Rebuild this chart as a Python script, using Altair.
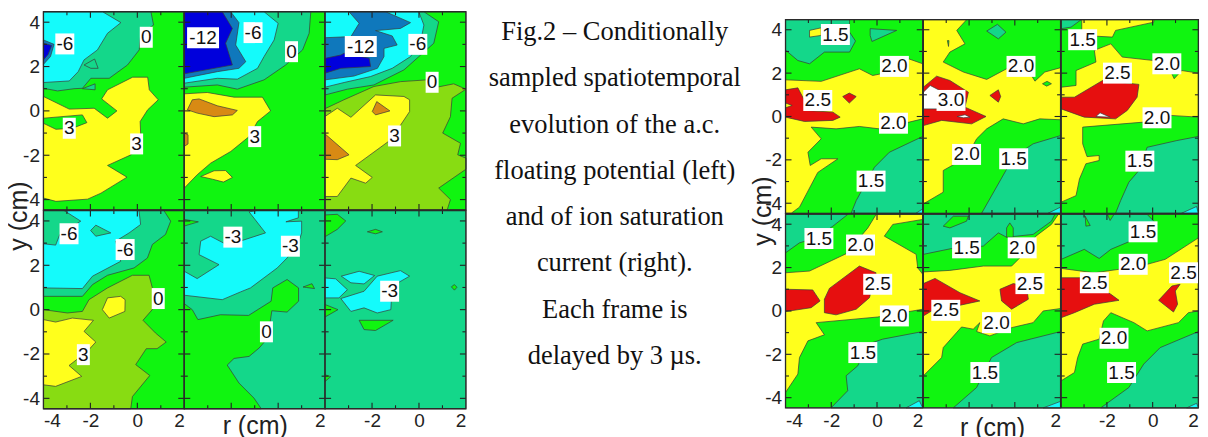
import altair as alt
import pandas as pd

COL = {"green": "#10f510", "teal": "#14d78a", "cyan": "#14fbfb", "blue": "#0000dc", "mid": "#0f78bc",
       "yellow": "#ffff1c", "olive": "#88dc12", "orange": "#d88a14", "red": "#e60f0f", "white": "#ffffff"}

A1 = [("teal", [(-4,1.02),(-3.4,.9),(-2.7,1.0),(-2.34,1.02),(-1.98,1.47),(-1.2,1.47),(-.42,2.07),(.08,2.75),(.15,3.5),(.69,3.87),(.58,4.47),(-4,4.47)]),
      ("cyan", [(-4,1.28),(-2.9,1.35),(-2.52,1.77),(-2.27,2.3),(-1.7,2.75),(-1.27,3.5),(-.7,3.98),(-1.48,4.47),(-4,4.47)]),
      ("teal", [(-2.27,2.07),(-1.82,2.34),(-1.67,1.92),(-1.98,1.92)]),
      ("teal", [(-2.34,1.0),(-1.8,1.22),(-1.8,.95)]),
      ("mid", [(-4,3.2),(-3.55,3.0),(-3.7,2.45),(-4,2.1)]),
      ("blue", [(-4,3.05),(-3.65,2.95),(-3.8,2.55),(-4,2.3)]),
      ("yellow", [(-4,.65),(-2.9,.08),(-1.84,.12),(-1.27,-.33),(-.87,0),(-1.52,.54),(-1.27,.95),(-.2,1.52),(.44,1.52),(.51,.95),(.89,.5),(.44,.05),(.12,-.48),(.15,-1.23),(-.27,-1.98),(-1.27,-2.46),(-.44,-2.99),(-1.55,-3.71),(-2.12,-3.98),(-3.47,-4.08),(-4,-3.93)]),
      ("green", [(-4,-.33),(-2.34,-.18),(-2.15,-.53),(-2.76,-.78),(-3.47,-.83),(-4,-.56)])]
A1_LABELS = [(-3.09,3.02,"-6"),(.38,3.32,"0"),(-2.9,-.78,"3"),(-.03,-1.49,"3")]

A2 = [("teal", [(-4,1.07),(-2.59,1.17),(-1.74,.98),(-.6,1.4),(.32,2.07),(1.04,2.75),(1.32,3.5),(1.39,4.47),(-4,4.47)]),
      ("cyan", [(-4,1.25),(-2.59,1.47),(-1.74,1.43),(-.88,1.92),(-.6,2.45),(-.17,3.2),(0,3.95),(-.6,4.47),(-4,4.47)]),
      ("mid", [(-4,1.47),(-2.59,1.77),(-1.67,1.92),(-1.38,2.22),(-1.81,2.97),(-1.67,3.98),(-2.02,4.47),(-4,4.47)]),
      ("blue", [(-4,1.67),(-2.31,2.0),(-1.95,2.07),(-2.24,3.05),(-1.95,3.72),(-2.38,4.47),(-4,4.47)]),
      ("yellow", [(-4,.77),(-3.02,.83),(-1.88,.62),(-.67,.62),(-.32,0),(-.88,-.48),(-1.24,-1.16),(-2.02,-1.83),(-2.88,-2.36),(-3.45,-2.88),(-4,-3.48)]),
      ("orange", [(-3.66,.5),(-3.37,.54),(-2.59,.23),(-1.74,.02),(-1.95,-.18),(-2.73,-.26),(-3.45,-.1),(-3.87,.05)]),
      ("orange", [(-4,-1.0),(-3.84,-1.08),(-3.84,-1.49),(-4,-1.6)]),
      ("yellow", [(-3.3,-2.96),(-2.73,-2.7),(-2.24,-2.69),(-1.95,-3.0),(-2.33,-3.21),(-2.8,-3.08)])]
A2_LABELS = [(-3.2,3.3,"-12"),(-1.07,3.53,"-6"),(.57,2.67,"0"),(-1.0,-1.16,"3")]

A3 = [("olive", [(-4,.1),(-3.2,.5),(-1.92,1.1),(-.78,1.32),(.35,1.4),(.77,1.07),(1.48,1.22),(2,.98),(1.41,.57),(1.34,-.26),(1.01,-1.0),(1.77,-1.46),(1.65,-1.98),(2,-2.13),(2,-2.63),(.84,-3.48),(1.34,-4.0),(1.2,-4.47),(-4,-4.47)]),
      ("teal", [(-4,.72),(-3.05,.98),(-1.92,1.17),(-.64,1.85),(.07,2.52),(.63,3.05),(.84,4.02),(.21,4.47),(-4,4.47)]),
      ("cyan", [(-4,1.07),(-3.19,1.28),(-2.06,1.55),(-1.14,1.92),(-.36,2.45),(.07,3.12),(.21,3.87),(-.01,4.47),(-4,4.47)]),
      ("mid", [(-4,1.4),(-2.77,1.57),(-1.77,1.92),(-1.49,2.45),(-1.49,2.82),(-.93,2.97),(-1.14,3.38),(-1.85,3.62),(-.79,3.72),(-.36,3.98),(-1.42,4.47),(-2.98,4.47),(-2.55,3.95),(-2.9,3.35),(-4,3.3)]),
      ("blue", [(-4,2.37),(-3.33,2.52),(-3.19,2.6),(-2.12,2.37),(-2.06,2.0),(-3.33,1.92),(-4,1.7)]),
      ("yellow", [(-4,-.25),(-3.48,.12),(-2.9,-.29),(-1.85,.72),(-.64,.65),(-.4,.5),(-.4,-.03),(-1.2,-1.3),(-2.7,-2.46),(-1.99,-3.0),(-2.27,-3.26),(-2.9,-3.03),(-3.48,-3.86),(-4,-3.86)]),
      ("orange", [(-1.8,.42),(-1.24,0),(-1.85,-.18),(-1.99,-.03)]),
      ("orange", [(-4,-1.04),(-2.98,-1.98),(-3.48,-2.2),(-4,-2.18)])]
A3_LABELS = [(-2.48,2.9,"-12"),(-.05,3.0,"-6"),(.56,1.29,"0"),(-1.04,-1.13,"3")]

B1 = [("teal", [(-4,.6),(-2.34,.6),(-1.91,1.13),(-1.27,1.55),(-.14,1.88),(.43,2.33),(.64,2.94),(1.2,3.39),(1.42,3.99),(1.13,4.52),(-4,4.52)]),
      ("cyan", [(-4,2.97),(-3.48,2.91),(-3.3,3.4),(-2.41,3.99),(-3.12,4.52),(.07,4.52),(.14,3.84),(-.35,3.46),(-.92,3.09),(-.71,2.18),(-1.91,1.51),(-2.34,.95),(-4,.98)]),
      ("teal", [(-1.99,3.57),(-1.77,3.81),(-1.13,3.46),(-1.77,3.31)]),
      ("olive", [(-4,0),(-2.98,-.15),(-2.34,-.08),(-2.06,.45),(-1.27,.98),(-.21,1.55),(.5,1.55),(.64,.98),(.7,.08),(.24,-.48),(.77,-1.05),(1.23,-1.46),(.84,-1.76),(.38,-1.76),(-.07,-2.48),(.53,-2.97),(-.21,-3.92),(-.28,-4.48),(-4,-4.48)]),
      ("yellow", [(-4,-.45),(-3.48,-.56),(-2.77,-.38),(-1.87,-.48),(-2.27,-.98),(-1.77,-1.46),(-2.13,-1.88),(-2.91,-2.52),(-2.37,-3.01),(-3.48,-3.46),(-4,-3.39)]),
      ("yellow", [(-1.27,.53),(-.71,.6),(-.52,.45),(-.53,-.08),(-1.2,-.38),(-1.49,0)])]
B1_LABELS = [(-2.91,3.42,"-6"),(-.52,2.71,"-6"),(.89,.5,"0"),(-2.3,-2.03,"3")]

B2 = [("green", [(-4,.27),(-3.66,0),(-3.42,-.45),(-2.46,-.23),(-1.26,-.26),(-.3,.38),(-.23,.98),(.38,1.36),(.87,.98),(.87,.38),(.38,-.11),(-.27,-.05),(-.44,-1.28),(-.81,-1.73),(-1.24,-2.11),(-1.88,-2.2),(-2.17,-2.5),(-1.67,-3.31),(-1.03,-3.99),(-.72,-4.48),(-4,-4.48)]),
      ("green", [(-4,4.07),(-3.4,3.96),(-4,3.77)]),
      ("green", [(1.06,1.02),(1.44,1.17),(1.55,.95),(1.2,1.0)]),
      ("cyan", [(-4,1.73),(-3.45,1.4),(-2.52,2.03),(-3.37,2.48),(-3.3,3.09),(-2.88,3.31),(-2.32,3.0),(-1.53,3.12),(-.54,3.46),(-1.24,4.41),(-.9,4.52),(.86,4.52),(.86,4.14),(.33,3.96),(1.0,3.99),(1.0,3.46),(.86,3.0),(.38,2.33),(-.04,1.88),(-1.18,.98),(-1.6,.8),(-2.38,.45),(-4,.65)])]
B2_LABELS = [(-1.93,3.27,"-3"),(.52,2.86,"-3"),(-.5,-1.0,"0")]

B3 = [("green", [(-4,4.27),(-3.48,4.3),(-3.12,4.0),(-3.48,3.62),(-4,3.29)]),
      ("green", [(-2.2,3.51),(-1.85,3.62),(-1.56,3.51),(-1.85,3.42)]),
      ("cyan", [(-4,1.43),(-3.55,1.39),(-3.05,.9),(-3.41,.53),(-4,.53)]),
      ("cyan", [(-3.31,1.51),(-2.55,1.73),(-1.89,1.54),(-2.34,1.16),(-2.9,1.21)]),
      ("cyan", [(-3.33,.5),(-2.34,.83),(-1.78,1.51),(-.79,1.76),(-.4,1.51),(-1.14,1.06),(-1.2,0),(-1.78,-.15),(-2.34,.08),(-2.9,-.08)]),
      ("green", [(-4,.23),(-3.45,0),(-4,-.33)]),
      ("green", [(-2.55,-.48),(-1.1,-.48),(-1.85,-.94),(-2.34,-.9)]),
      ("green", [(1.38,1.03),(1.51,1.13),(1.62,1.01),(1.51,.88)]),
      ("green", [(-4,-2.94),(-3.76,-3.02),(-4,-3.24)])]
B3_LABELS = [(-1.25,.83,"-3")]

C1 = [("teal", [(-4,3.06),(-3.46,2.58),(-2.95,2.43),(-2.3,2.97),(-1.2,2.97),(-.94,3.48),(-1.2,3.89),(-1.2,4.46),(-4,4.46)]),
      ("yellow", [(-2.95,3.97),(-2.44,4.09),(-2.44,3.74),(-2.95,3.66)]),
      ("teal", [(-.3,4.05),(.86,3.97),(-.22,3.46),(-.3,3.74)]),
      ("yellow", [(-4,1.69),(-2.44,1.62),(-.77,2.2),(-.19,1.89),(.18,1.97),(1.41,2.65),(2,2.43),(2,-.11),(1.41,-.26),(.1,-.57),(-.77,-.46),(-1.79,-.57),(-2.88,-.49),(-2.44,-1.03),(-3.02,-1.65),(-2.92,-2.26),(-2.44,-1.95),(-1.71,-1.95),(-2.59,-2.58),(-3.39,-4.18),(-3.75,-4.46),(-4,-4.46)]),
      ("teal", [(-1.13,-4.46),(-.91,-3.88),(-.11,-2.34),(.54,-1.65),(2,-.92),(2,-4.46)]),
      ("cyan", [(1.71,-4.46),(2,-4.26),(2,-4.46)]),
      ("red", [(-4,1.23),(-3.46,1.32),(-3.17,.74),(-3.1,.28),(-1.93,.2),(-1.61,-.03),(-1.93,-.18),(-3.17,-.23),(-4,-.03)]),
      ("yellow", [(-4,.62),(-3.71,.51),(-4,.4)]),
      ("red", [(-1.5,.92),(-1.21,1.08),(-.91,.92),(-1.21,.62)])]
C1_LABELS = [(-1.82,3.78,"1.5"),(.76,2.31,"2.0"),(-2.59,.74,"2.5"),(.72,-.31,"2.0"),(-.26,-2.98,"1.5")]

C2 = [("yellow", [(-4,4.46),(-2.11,4.46),(-2.54,3.97),(-2.18,3.35),(-2.84,2.97),(-3.13,2.51),(-2.25,2.05),(-1.23,1.71),(-.36,2.2),(.37,2.5),(.88,1.63),(1.31,2.05),(2,2.25),(2,-.15),(1.09,-.11),(.37,-.34),(-.51,-.11),(-1.23,-.57),(-1.67,-1.03),(-2.11,-1.88),(-3.13,-2.49),(-3.13,-3.49),(-4,-4.03)]),
      ("teal", [(-1.23,3.94),(-.76,4.25),(-.39,3.89),(-.72,3.58)]),
      ("green", [(-2.95,3.5),(-2.88,3.5),(-2.9,3.23)]),
      ("green", [(1.21,1.51),(1.41,1.62),(1.6,1.51),(1.39,1.4)]),
      ("teal", [(-1.45,-4.46),(-.39,-2.49),(-.07,-1.88),(.8,-1.26),(2,-.88),(2,-4.46)]),
      ("cyan", [(1.46,-4.46),(2,-4.18),(2,-4.46)]),
      ("red", [(-4,1.35),(-3.42,1.86),(-2.84,1.66),(-2.03,1.12),(-2.18,.43),(-1.26,0),(-1.89,-.34),(-3.2,-.18),(-4,-.42)]),
      ("white", [(-4,1.12),(-3.7,1.43),(-3.13,1.12),(-3.13,.35),(-4,.35)]),
      ("white", [(-2.52,0),(-2.18,.08),(-1.96,-.03),(-2.25,-.06)]),
      ("red", [(-1.09,.97),(-.72,1.23),(-.62,.92),(-.72,.66)])]
C2_LABELS = [(-2.79,.74,"3.0"),(.27,2.31,"2.0"),(-2.11,-1.75,"2.0"),(-.05,-1.95,"1.5")]

C3 = [("teal", [(-4,4.46),(-3.13,4.46),(-3.57,4.12),(-4,4.05)]),
      ("yellow", [(-3.1,3.74),(-1.76,3.66),(-1.62,3.97),(.05,4.35),(.05,4.46),(-3.1,4.46)]),
      ("yellow", [(-4,1.35),(-3.35,1.43),(-3.35,2.12),(-2.48,2.51),(-2.55,3.05),(-1.83,3.35),(-1.33,2.74),(.05,2.58),(.84,1.97),(.94,1.74),(1.27,2.12),(2,2.0),(2,-.03),(.77,.05),(-.39,-.26),(-3.06,-.49),(-3.06,-1.26),(-2.87,-1.85),(-2.34,-1.8),(-2.34,-2.03),(-2.92,-2.18),(-3.2,-2.88),(-3.35,-3.65),(-4,-3.95)]),
      ("teal", [(-1.62,-4.46),(-1.4,-3.88),(-1.04,-3.03),(-.6,-2.49),(-.24,-1.42),(1.06,-1.11),(2,-.92),(2,-4.46)]),
      ("cyan", [(1.27,-4.46),(1.92,-4.15),(2,-4.46)]),
      ("red", [(-4,.89),(-3.42,.89),(-2.19,1.66),(-.6,1.48),(-.68,.89),(-1.11,.28),(-1.62,-.11),(-2.99,-.03),(-4,.35)]),
      ("white", [(-2.48,0),(-2.3,.17),(-1.86,-.03)])]
C3_LABELS = [(-3.06,3.54,"1.5"),(-1.54,2.0,"2.5"),(.62,2.43,"2.0"),(.19,-.06,"2.0"),(-.56,-2.06,"1.5")]

D1 = [("teal", [(-4,4.45),(-1.28,4.45),(-1.93,3.91),(-2.66,3.37),(-3.39,3.14),(-4,2.68)]),
      ("yellow", [(-4,1.76),(-2.95,1.84),(-1.35,2.64),(-.4,3.83),(-.04,4.45),(2,4.45),(2,4.22),(.69,3.99),(.32,3.45),(1.71,2.61),(1.78,1.99),(2,1.69),(2,.08),(.03,-.28),(-2.66,-.54),(-2.3,-1.1),(-3.02,-1.38),(-3.39,-2.15),(-3.46,-2.91),(-4,-3.76)]),
      ("teal", [(-2.01,-4.48),(-1.28,-3.68),(-1.35,-2.99),(-.84,-2.53),(-.4,-1.53),(.25,-1.3),(2,-.95),(2,-4.48)]),
      ("cyan", [(1.27,-4.48),(1.85,-4.14),(2,-4.48)]),
      ("red", [(-4,1.0),(-2.81,.97),(-2.49,.46),(-2.88,.15),(-4,-.03)]),
      ("red", [(-2.08,1.04),(-.77,2.07),(-.04,1.76),(-.33,.61),(-.91,.08),(-1.79,-.18),(-2.3,-.08),(-2.3,.54)])]
D1_LABELS = [(-2.54,3.34,"1.5"),(-.72,3.04,"2.0"),(.03,1.23,"2.5"),(.76,-.23,"2.0"),(-.62,-1.92,"1.5")]

D2 = [("teal", [(-4,2.61),(-2.76,2.88),(-1.38,2.99),(-.72,3.6),(-.36,3.4),(.8,3.53),(1.6,4.14),(1.75,4.45),(-4,4.45)]),
      ("green", [(-3.13,3.91),(-2.69,4.37),(-2.03,4.37),(-2.11,4.14),(-2.84,3.83)]),
      ("green", [(-.36,3.4),(-.36,3.83),(-.22,4.06),(-.07,3.83),(-.07,3.4)]),
      ("yellow", [(-4,1.8),(-2.84,1.87),(-1.38,2.07),(-.14,2.07),(.22,2.45),(.92,3.45),(1.6,3.99),(1.9,4.45),(2,4.45),(2,.11),(1.24,0),(.8,-.54),(-.14,-.77),(-1.09,-1.15),(-1.67,-.95),(-1.53,-.54),(-1.82,-.84),(-2.33,-.74),(-3.13,-1.69),(-3.2,-2.15),(-4,-2.99)]),
      ("teal", [(-2.69,-4.48),(-1.67,-3.53),(-1.02,-2.15),(.08,-1.46),(2,-.95),(2,-4.48)]),
      ("cyan", [(1.24,-4.48),(2,-4.17),(2,-4.48)]),
      ("red", [(-4,1.26),(-3.49,1.5),(-2.4,.84),(-1.53,.46),(-2.54,.23),(-3.64,0),(-4,-.23)]),
      ("red", [(-.65,1.0),(-.07,1.26),(.51,1.15),(.59,.54),(-.14,.08),(-.58,.46)])]
D2_LABELS = [(-2.11,2.91,"1.5"),(.32,2.91,"2.0"),(.66,1.26,"2.5"),(-3.02,.03,"2.5"),(-.8,-.54,"2.0"),(-1.31,-2.84,"1.5")]

D3 = [("teal", [(-4,2.38),(-2.99,2.84),(-2.34,2.42),(-1.83,2.84),(-.97,3.22),(-.1,3.22),(.19,3.99),(-.24,4.45),(-4,4.45)]),
      ("green", [(-1.98,4.45),(-1.86,4.17),(-1.69,4.45)]),
      ("green", [(-2.95,4.37),(-2.73,3.94),(-2.92,3.91)]),
      ("yellow", [(-4,1.96),(-2.55,1.76),(-1.47,1.92),(-.24,2.15),(.55,2.38),(2,3.37),(2,0),(1.56,-.08),(1.13,-.54),(-.24,-.92),(-.82,-.54),(-1.83,-.08),(-2.15,-.46),(-2.34,-1.3),(-3.06,-1.53),(-3.28,-2.15),(-3.42,-2.84),(-4,-3.22)]),
      ("teal", [(-2.27,-4.48),(-1.04,-3.53),(-.39,-2.45),(.33,-1.69),(2,-.95),(2,-4.48)]),
      ("cyan", [(1.49,-4.48),(1.92,-4.26),(2,-4.48)]),
      ("red", [(-4,1.53),(-3.13,1.53),(-1.83,.77),(-1.47,.49),(-2.55,.31),(-3.42,-.08),(-4,-.31)]),
      ("red", [(.26,.49),(.84,1.15),(1.2,1.23),(.99,.92),(1.09,.31),(.91,-.05)])]
D3_LABELS = [(-.42,3.65,"1.5"),(-.85,2.15,"2.0"),(-2.55,1.3,"2.5"),(1.35,1.76,"2.5"),(-1.69,-1.26,"2.0"),(-1.36,-2.84,"1.5")]

CAPTION = ["Fig.2 – Conditionally", "sampled spatiotemporal", "evolution of the a.c.", "floating potential (left)",
           "and of  ion saturation", "current (right).", "Each frame is", "delayed by 3 µs."]

XDOM = [-4, 2]
YDOM = [-4.47, 4.47]
X_MAJOR, X_MINOR = [-2, 0], [-3, -1, 1]
Y_MAJOR, Y_MINOR = [-4, -2, 0, 2, 4], [-3, -1, 1, 3]
FONT = "Liberation Sans"
BOX_W = {"0": 13, "3": 13, "-3": 19, "-6": 19, "-12": 32, "1.5": 29, "2.0": 29, "2.5": 29, "3.0": 29}


def panel(base, polys, labels, w, h, top=0.0, plot_h=None, left=False, bottom=False, xvals=(-2, 0, 2), xtitle=None,
          xtitle_y=17, ytitle=None, ytitle_y=0, ytitle_x=-25):
    plot_h = plot_h or h
    y_top, y_bot = top, top + plot_h
    corners = [(XDOM[0], YDOM[1]), (XDOM[1], YDOM[1]), (XDOM[1], YDOM[0]), (XDOM[0], YDOM[0])]
    rows = []
    for pid, (name, pts) in enumerate([(base, corners)] + polys):
        for i, (r, y) in enumerate(pts):
            rows.append({"pid": pid, "i": i, "r": r, "y": y, "c": COL[name]})
    df = pd.DataFrame(rows)
    xaxis = None
    if bottom:
        xaxis = alt.Axis(values=list(xvals), ticks=False, domain=False, grid=False, labelFont=FONT, labelFontSize=19,
                         labelColor="#222", labelPadding=3, labelExpr="''+datum.value", title=xtitle,
                         titleFont=FONT, titleFontSize=25, titleFontWeight="normal", titleColor="#222",
                         titleY=xtitle_y, titleBaseline="middle")
    yaxis = None
    if left:
        yaxis = alt.Axis(values=Y_MAJOR, ticks=False, domain=False, grid=False, labelFont=FONT, labelFontSize=19,
                         labelColor="#222", labelPadding=4, labelExpr="''+datum.value", title=ytitle,
                         titleFont=FONT, titleFontSize=25, titleFontWeight="normal", titleColor="#222",
                         titleX=ytitle_x, titleY=ytitle_y, titleAngle=270, titleBaseline="middle", titleAlign="center")
    x = alt.X("r:Q", scale=alt.Scale(domain=XDOM, nice=False, zero=False), axis=xaxis)
    y = alt.Y("y:Q", scale=alt.Scale(domain=YDOM, nice=False, zero=False, clamp=True, range=[y_bot, y_top]), axis=yaxis)
    fills = alt.Chart(df).mark_line(interpolate="linear-closed", stroke="#3a3a3a", strokeWidth=0.7).encode(
        x=x, y=y, detail="pid:N", order="i:Q", fill=alt.Fill("c:N", scale=None))
    layers = [fills]

    xt = pd.DataFrame({"r": X_MAJOR + X_MINOR, "s": [6] * len(X_MAJOR) + [3.5] * len(X_MINOR)})
    yt = pd.DataFrame({"y": Y_MAJOR + Y_MINOR, "s": [6] * len(Y_MAJOR) + [3.5] * len(Y_MINOR)})
    for size in (6, 3.5):
        xs = xt[xt.s == size]
        ys = yt[yt.s == size]
        tick = dict(color="#222", strokeWidth=1.1)
        layers += [
            alt.Chart(xs).mark_rule(**tick).encode(x=alt.X("r:Q"), y=alt.value(y_top), y2=alt.value(y_top + size)),
            alt.Chart(xs).mark_rule(**tick).encode(x=alt.X("r:Q"), y=alt.value(y_bot - size), y2=alt.value(y_bot)),
            alt.Chart(ys).mark_rule(**tick).encode(y=alt.Y("y:Q"), x=alt.value(0), x2=alt.value(size)),
            alt.Chart(ys).mark_rule(**tick).encode(y=alt.Y("y:Q"), x=alt.value(w - size), x2=alt.value(w)),
        ]
    layers.append(alt.Chart(pd.DataFrame({"a": [0]})).mark_rect(fillOpacity=0, stroke="#2a2a2a", strokeWidth=1.3).encode(
        x=alt.value(0), x2=alt.value(w), y=alt.value(y_top), y2=alt.value(y_bot)))

    ldf = pd.DataFrame(labels, columns=["r", "y", "t"])
    for text, sub in ldf.groupby("t"):
        layers.append(alt.Chart(sub).mark_rect(color="white", width=BOX_W[text], height=21).encode(x=alt.X("r:Q"), y=alt.Y("y:Q")))
    layers.append(alt.Chart(ldf).mark_text(font=FONT, fontSize=19, color="#111").encode(x=alt.X("r:Q"), y=alt.Y("y:Q"), text="t:N"))
    return alt.layer(*layers).properties(width=w, height=h)


LW, LH = 141, 198.5
RW, RPH = 137.4, 194.1
ALLX = (-4, -2, 0, 2)
CAP_W = 320

cap_df = pd.DataFrame({"line": list(range(len(CAPTION))), "t": CAPTION})
caption = alt.Chart(cap_df).mark_text(font="Liberation Serif", fontSize=26.5, color="#111").encode(
    x=alt.value(149),
    y=alt.Y("line:Q", scale=alt.Scale(domain=[0, 7], nice=False, zero=False, range=[20.5, 344.5]), axis=None),
    text="t:N").properties(width=CAP_W, height=LH)
spacer = alt.Chart(pd.DataFrame({"a": [0]})).mark_rule(opacity=0).encode(x=alt.value(0)).properties(width=CAP_W, height=LH)

cells = [
    panel("green", A1, A1_LABELS, LW, LH, left=True),
    panel("green", A2, A2_LABELS, LW, LH),
    panel("green", A3, A3_LABELS, LW, LH),
    caption,
    panel("green", C1, C1_LABELS, RW, LH, top=7.8, plot_h=RPH, left=True),
    panel("green", C2, C2_LABELS, RW, LH, top=7.8, plot_h=RPH),
    panel("green", C3, C3_LABELS, RW, LH, top=7.8, plot_h=RPH),
    panel("green", B1, B1_LABELS, LW, LH, left=True, bottom=True, xvals=ALLX, ytitle="y (cm)", ytitle_y=5),
    panel("teal", B2, B2_LABELS, LW, LH, bottom=True, xvals=(2,), xtitle="r (cm)"),
    panel("teal", B3, B3_LABELS, LW, LH, bottom=True),
    spacer,
    panel("green", D1, D1_LABELS, RW, LH, top=3.5, plot_h=RPH, left=True, bottom=True, xvals=ALLX, ytitle="y (cm)", ytitle_y=0, ytitle_x=-23),
    panel("green", D2, D2_LABELS, RW, LH, top=3.5, plot_h=RPH, bottom=True, xvals=(2,), xtitle="r (cm)", xtitle_y=19),
    panel("green", D3, D3_LABELS, RW, LH, top=3.5, plot_h=RPH, bottom=True),
]

chart = alt.concat(*cells, columns=7, spacing=0, bounds="flush").properties(
    padding={"left": -2.5, "top": 1.5, "right": 0, "bottom": 0}
).configure_view(strokeWidth=0)

chart.save("out.html", embed_options={"renderer": "svg", "actions": False})
